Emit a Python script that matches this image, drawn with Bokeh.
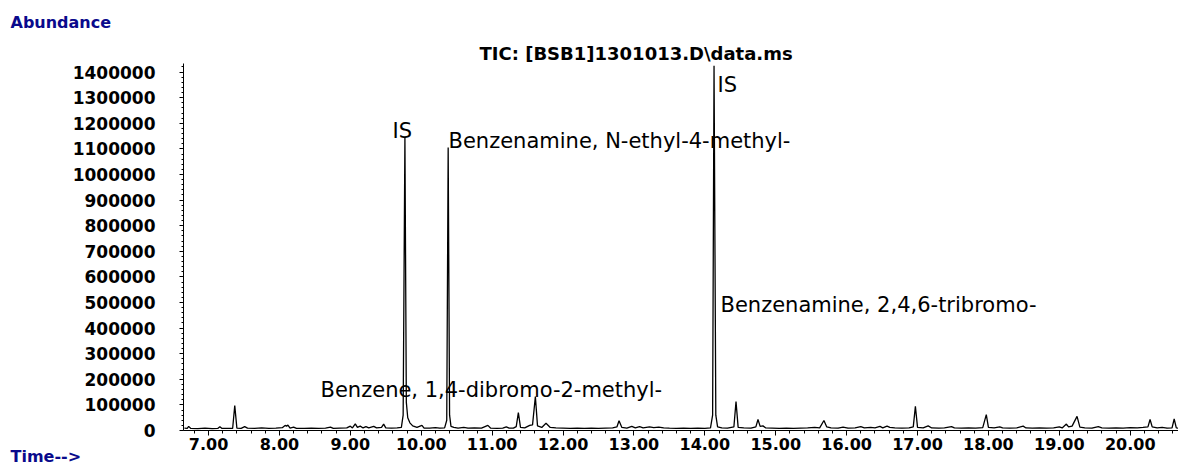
from bokeh.plotting import figure
from bokeh.models import (ColumnDataSource, Range1d, SingleIntervalTicker,
                          PrintfTickFormatter, BasicTickFormatter, Label, Title)
from bokeh.embed import file_html
from bokeh.resources import INLINE

# ---- chromatogram (retention time in min, abundance) ----
time_min = [
    6.66, 6.70, 6.72, 6.75, 6.85, 6.95, 7.05, 7.13, 7.16, 7.19, 7.28, 7.34, 7.37, 7.40,
    7.46, 7.51, 7.55, 7.65, 7.75, 7.85, 7.95, 8.04, 8.08, 8.10, 8.12, 8.15, 8.20, 8.24,
    8.35, 8.45, 8.55, 8.65, 8.72, 8.76, 8.85, 8.95, 9.00, 9.03, 9.07, 9.10, 9.14, 9.18,
    9.22, 9.26, 9.33, 9.37, 9.44, 9.47, 9.50, 9.58, 9.66, 9.72, 9.745, 9.77, 9.79, 9.81,
    9.84, 9.88, 9.94, 10.01, 10.04, 10.12, 10.20, 10.26, 10.33, 10.36, 10.38, 10.40,
    10.42, 10.46, 10.52, 10.60, 10.66, 10.75, 10.85, 10.94, 10.98, 11.07, 11.15, 11.20,
    11.24, 11.30, 11.34, 11.37, 11.40, 11.46, 11.53, 11.57, 11.61, 11.64, 11.70, 11.76,
    11.82, 11.90, 12.00, 12.10, 12.20, 12.30, 12.40, 12.50, 12.60, 12.70, 12.76, 12.79,
    12.83, 12.90, 12.97, 13.02, 13.08, 13.13, 13.22, 13.28, 13.35, 13.42, 13.50, 13.60,
    13.70, 13.80, 13.90, 14.00, 14.08, 14.11, 14.13, 14.155, 14.18, 14.24, 14.32, 14.41,
    14.44, 14.47, 14.55, 14.65, 14.72, 14.75, 14.78, 14.82, 14.86, 14.95, 15.05, 15.15,
    15.25, 15.35, 15.45, 15.55, 15.62, 15.68, 15.72, 15.78, 15.88, 15.95, 16.02, 16.12,
    16.20, 16.25, 16.34, 16.40, 16.47, 16.51, 16.57, 16.61, 16.68, 16.78, 16.88, 16.94,
    16.97, 17.00, 17.08, 17.15, 17.20, 17.30, 17.38, 17.48, 17.52, 17.62, 17.72, 17.82,
    17.92, 17.97, 18.00, 18.08, 18.16, 18.20, 18.30, 18.40, 18.49, 18.53, 18.62, 18.72,
    18.82, 18.92, 19.00, 19.04, 19.10, 19.13, 19.18, 19.25, 19.29, 19.36, 19.46, 19.55,
    19.60, 19.70, 19.80, 19.90, 20.00, 20.10, 20.18, 20.25, 20.28, 20.31, 20.38, 20.45,
    20.52, 20.59, 20.62, 20.65, 20.70,
]
abundance = [
    9000, 8000, 16000, 8000, 7000, 9000, 7000, 8000, 15000, 8000, 8000, 8000, 97000, 9000,
    8000, 15000, 9000, 8000, 10000, 8000, 9000, 11000, 20000, 17000, 21000, 9000, 13000, 8000,
    8000, 9000, 8000, 9000, 13000, 8000, 9000, 10000, 17000, 10000, 26000, 12000, 17000, 10000,
    15000, 10000, 16000, 10000, 12000, 25000, 10000, 9000, 10000, 12000, 60000, 1145000, 110000, 50000,
    30000, 18000, 12000, 20000, 9000, 9000, 11000, 9000, 10000, 40000, 1105000, 60000,
    16000, 12000, 9000, 12000, 9000, 10000, 9000, 20000, 9000, 8000, 9000, 14000,
    9000, 9000, 15000, 70000, 12000, 10000, 20000, 22000, 133000, 18000, 12000, 28000,
    12000, 10000, 9000, 8000, 9000, 8000, 9000, 8000, 9000, 10000, 14000, 38000,
    12000, 9000, 16000, 10000, 15000, 10000, 14000, 11000, 13000, 10000, 9000, 8000,
    9000, 8000, 9000, 8000, 10000, 60000, 1425000, 60000, 14000, 10000, 9000, 14000,
    113000, 12000, 10000, 9000, 14000, 43000, 16000, 18000, 10000, 9000, 8000, 9000,
    8000, 9000, 10000, 12000, 10000, 39000, 14000, 10000, 9000, 13000, 9000, 10000,
    15000, 10000, 12000, 10000, 16000, 10000, 17000, 12000, 10000, 9000, 10000, 14000,
    94000, 12000, 10000, 18000, 10000, 9000, 10000, 15000, 10000, 9000, 10000, 9000,
    11000, 62000, 12000, 10000, 14000, 10000, 9000, 10000, 17000, 10000, 9000, 10000,
    9000, 10000, 14000, 10000, 25000, 14000, 17000, 55000, 13000, 10000, 9000, 15000,
    10000, 9000, 10000, 9000, 11000, 10000, 12000, 14000, 43000, 14000, 10000, 12000,
    9000, 10000, 45000, 10000, 9000,
]

peak_names = [
    "IS",
    "Benzenamine, N-ethyl-4-methyl-",
    "IS",
    "Benzenamine, 2,4,6-tribromo-",
    "Benzene, 1,4-dibromo-2-methyl-",
]
title_text = "TIC: [BSB1]1301013.D\\data.ms"
y_title = "Abundance"
x_title = "Time-->"

# ---- figure ----
W, H = 1178, 465
LEFT, TOP, BOTTOM = 183, 63, 35
X0, X1 = 6.647, 20.681
Y0, Y1 = 0, 1433500

p = figure(width=W, height=H, output_backend="svg", toolbar_location=None,
           x_range=Range1d(X0, X1), y_range=Range1d(Y0, Y1))
p.min_border_left = LEFT
p.min_border_right = 0
p.min_border_top = TOP
p.min_border_bottom = BOTTOM
p.outline_line_color = None
p.xgrid.visible = False
p.ygrid.visible = False

src = ColumnDataSource(dict(t=time_min, a=abundance))
p.line("t", "a", source=src, line_color="black", line_width=1.3)

# axes
xa = p.xaxis[0]
xa.ticker = SingleIntervalTicker(interval=1, num_minor_ticks=5)
xa.formatter = PrintfTickFormatter(format="%.2f")
xa.major_label_text_font = "DejaVu Sans"
xa.major_label_text_font_style = "bold"
xa.major_label_text_font_size = "16px"
xa.major_label_text_color = "black"
xa.major_label_standoff = 2
xa.major_tick_out = 5
xa.major_tick_in = 0
xa.minor_tick_out = 3
xa.minor_tick_in = 0

ya = p.yaxis[0]
ya.ticker = SingleIntervalTicker(interval=100000, num_minor_ticks=5)
ya.formatter = BasicTickFormatter(use_scientific=False)
ya.major_label_text_font = "DejaVu Sans"
ya.major_label_text_font_style = "bold"
ya.major_label_text_font_size = "17px"
ya.major_label_text_color = "black"
ya.major_label_standoff = 24
ya.major_tick_out = 4
ya.major_tick_in = 0
ya.minor_tick_out = 2
ya.minor_tick_in = 0

# titles in the borders
main_title = Title(text=title_text, align="left", offset=479 - LEFT,
                   text_font="DejaVu Sans", text_font_size="18px",
                   text_font_style="bold", text_color="black", standoff=0)
p.add_layout(main_title, "above")
ab_title = Title(text=y_title, align="left", offset=10 - LEFT,
                 text_font="DejaVu Sans", text_font_size="16px",
                 text_font_style="bold", text_color="#0a0a8c", standoff=18)
p.add_layout(ab_title, "above")
time_title = Title(text=x_title, align="left", offset=10 - LEFT,
                   text_font="DejaVu Sans", text_font_size="16px",
                   text_font_style="bold", text_color="#0a0a8c", standoff=-15)
p.add_layout(time_title, "below")

# peak annotations (data units)
ann_pos = [(9.595, 1167900), (10.385, 1132700), (14.179, 1347600),
           (14.221, 488250), (8.580, 156240)]
for (ax, ay), name in zip(ann_pos, peak_names):
    p.add_layout(Label(x=ax, y=ay, text=name, text_font="DejaVu Sans",
                       text_font_size="21px", text_color="black",
                       text_align="left", text_baseline="alphabetic"))

open("out.html", "w").write(file_html(p, INLINE))
